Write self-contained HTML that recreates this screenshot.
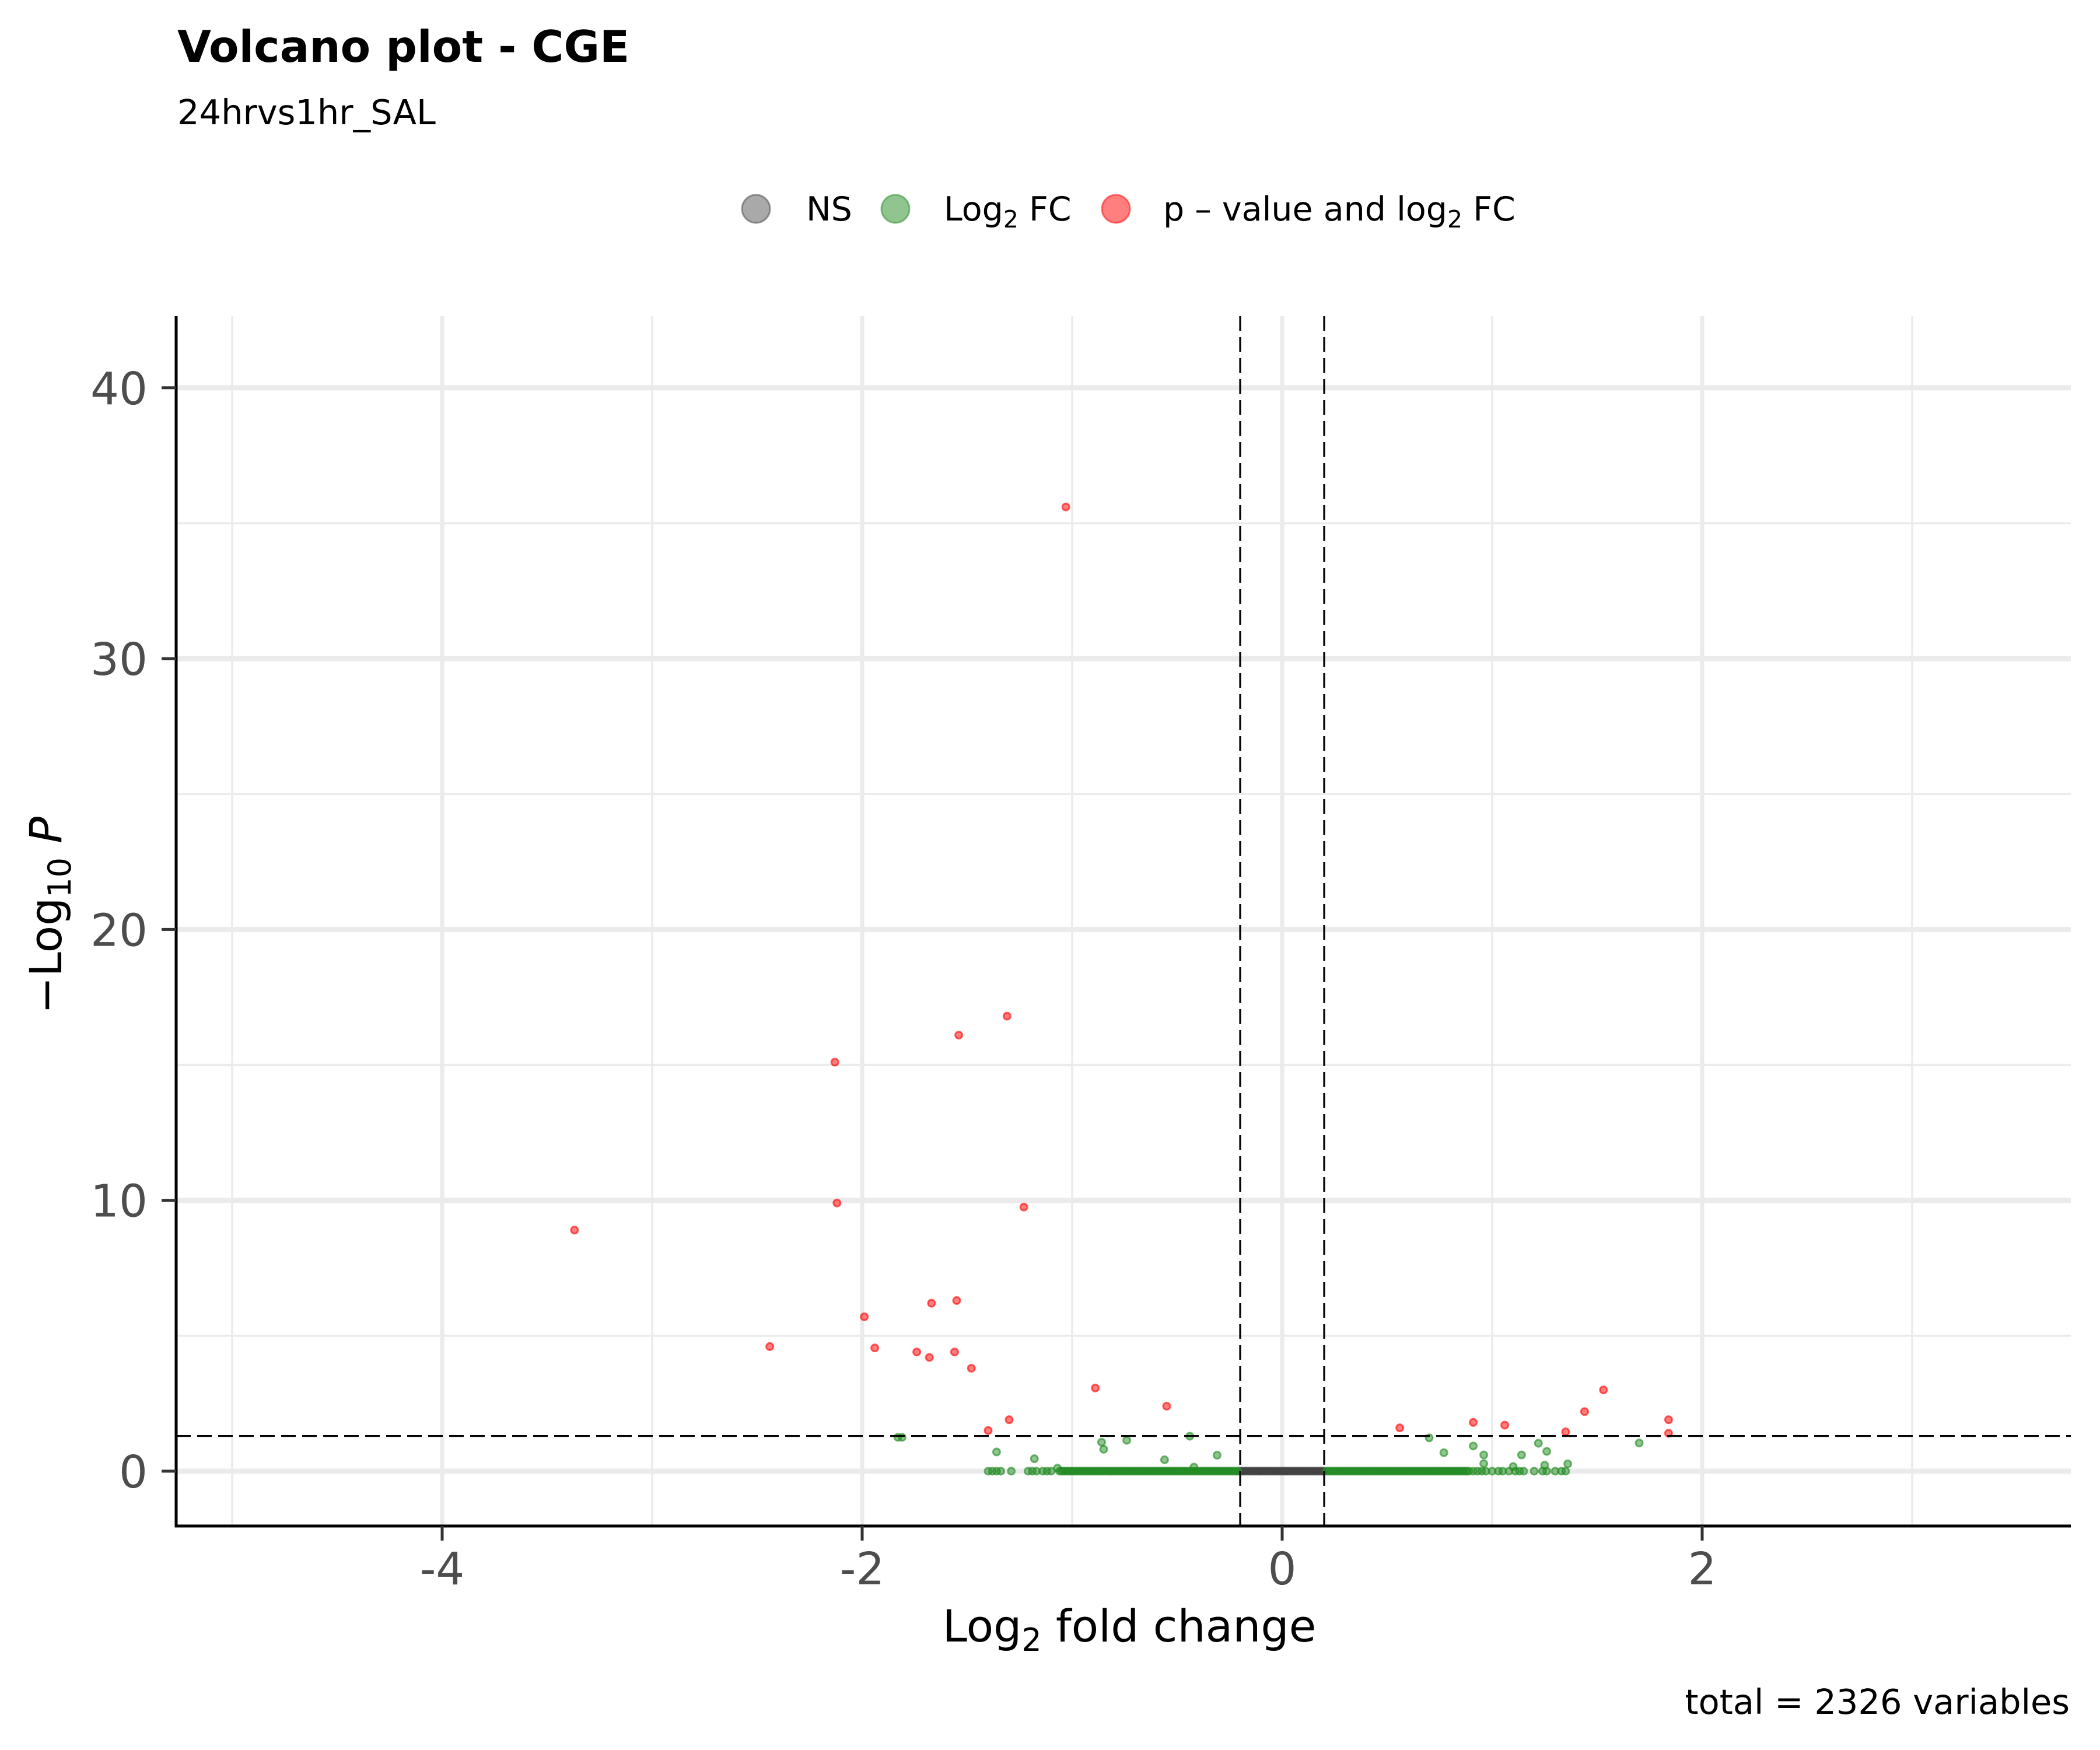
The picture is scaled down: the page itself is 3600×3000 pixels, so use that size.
<!DOCTYPE html>
<html><head><meta charset="utf-8">
<style>
html,body{margin:0;padding:0;background:#fff;}
svg{display:block;font-family:"DejaVu Sans","Liberation Sans",sans-serif;}
</style></head>
<body>
<svg id="chart" width="3600" height="3000" viewBox="0 0 3600 3000" xmlns="http://www.w3.org/2000/svg">
<rect x="0" y="0" width="3600" height="3000" fill="#fff"/>
<text x="304" y="106" font-size="75" font-weight="bold" fill="#000">Volcano plot - CGE</text>
<text x="304" y="213" font-size="59" fill="#000">24hrvs1hr_SAL</text>
<g id="legend">
  <g>
    <circle cx="1296" cy="358" r="24" fill="#404040" fill-opacity="0.45" stroke="#404040" stroke-opacity="0.5" stroke-width="3"/>
    <text x="1382" y="378" font-size="57" fill="#000">NS</text>
  </g>
  <g>
    <circle cx="1535" cy="358" r="24" fill="#228B22" fill-opacity="0.5" stroke="#228B22" stroke-opacity="0.5" stroke-width="3"/>
    <text x="1618" y="378" font-size="57" fill="#000">Log<tspan font-size="41" dy="12">2</tspan><tspan dy="-12"> FC</tspan></text>
  </g>
  <g>
    <circle cx="1913" cy="358" r="24" fill="#ff0000" fill-opacity="0.5" stroke="#ff0000" stroke-opacity="0.5" stroke-width="3"/>
    <text x="1994" y="378" font-size="57" fill="#000">p – value and log<tspan font-size="41" dy="12">2</tspan><tspan dy="-12"> FC</tspan></text>
  </g>
</g>
<g id="grid"></g>
<g id="points"></g>
<g id="refs"></g>
<g id="axes"></g>
<text x="1936" y="2814" font-size="76" text-anchor="middle" fill="#000">Log<tspan font-size="54" dy="16">2</tspan><tspan dy="-16"> fold change</tspan></text>
<text transform="translate(105,1569) rotate(-90)" font-size="76" text-anchor="middle" fill="#000">−Log<tspan font-size="54" dy="16">10</tspan><tspan dy="-16" font-style="italic"> P</tspan></text>
<text x="3548" y="2938" font-size="59" text-anchor="end" fill="#000">total = 2326 variables</text>
</svg>
<script>
// ---- data ----
const xMajorTicks = [-4, -2, 0, 2];
const xMinorTicks = [-5, -3, -1, 1, 3];
const yMajorTicks = [0, 10, 20, 30, 40];
const yMinorTicks = [5, 15, 25, 35];
const fcCutoff = 0.2;
const pCutoff = 1.3;

const redX = [-1.03,-1.31,-1.54,-2.13,-2.12,-1.23,-3.37,-1.99,-1.67,-1.55,-2.44,-1.94,-1.74,-1.56,-1.68,-1.48,-0.89,-0.55,-1.40,-1.30,0.56,0.91,1.06,1.53,1.44,1.35,1.84,1.84];
const redY = [35.6,16.8,16.1,15.1,9.9,9.75,8.9,5.7,6.2,6.3,4.6,4.55,4.4,4.4,4.2,3.8,3.07,2.4,1.5,1.9,1.6,1.8,1.7,3.0,2.2,1.45,1.9,1.4];

const greenX = [-1.83,-1.81,-1.36,-1.18,-1.07,-0.86,-0.85,-0.74,-0.56,-0.44,-0.31,-0.42,0.70,0.77,0.91,0.96,0.96,1.10,1.14,1.22,1.25,1.26,1.36,1.70];
const greenY = [1.25,1.25,0.71,0.46,0.11,1.07,0.81,1.14,0.42,1.29,0.59,0.15,1.23,0.68,0.93,0.60,0.28,0.17,0.60,1.03,0.22,0.73,0.27,1.04];

const greenBaseX = [-1.40,-1.38,-1.36,-1.34,-1.29,-1.21,-1.19,-1.17,-1.14,-1.12,-1.10,-1.06,-1.05,-1.04,-1.03,-1.02,-1.01,-1.00,-0.99,-0.98,-0.97,-0.96,-0.95,-0.94,-0.93,-0.92,-0.91,-0.90,-0.89,-0.88,-0.87,-0.86,-0.85,-0.84,-0.83,-0.82,-0.81,-0.80,-0.79,-0.78,-0.77,-0.76,-0.75,-0.74,-0.73,-0.72,-0.71,-0.70,-0.69,-0.68,-0.67,-0.66,-0.65,-0.64,-0.63,-0.62,-0.61,-0.60,-0.59,-0.58,-0.57,-0.56,-0.55,-0.54,-0.53,-0.52,-0.51,-0.50,-0.49,-0.48,-0.47,-0.46,-0.45,-0.44,-0.43,-0.42,-0.41,-0.40,-0.39,-0.38,-0.37,-0.36,-0.35,-0.34,-0.33,-0.32,-0.31,-0.30,-0.29,-0.28,-0.27,-0.26,-0.25,-0.24,-0.23,-0.22,-0.21,0.21,0.22,0.23,0.24,0.25,0.26,0.27,0.28,0.29,0.30,0.31,0.32,0.33,0.34,0.35,0.36,0.37,0.38,0.39,0.40,0.41,0.42,0.43,0.44,0.45,0.46,0.47,0.48,0.49,0.50,0.51,0.52,0.53,0.54,0.55,0.56,0.57,0.58,0.59,0.60,0.61,0.62,0.63,0.64,0.65,0.66,0.67,0.68,0.69,0.70,0.71,0.72,0.73,0.74,0.75,0.76,0.77,0.78,0.79,0.80,0.81,0.82,0.83,0.84,0.85,0.86,0.87,0.88,0.89,0.91,0.93,0.95,0.97,1.00,1.03,1.05,1.08,1.11,1.13,1.15,1.20,1.24,1.26,1.30,1.33,1.35];
const greyBaseX = [-0.20,-0.19,-0.18,-0.17,-0.16,-0.15,-0.14,-0.13,-0.12,-0.11,-0.10,-0.09,-0.08,-0.07,-0.06,-0.05,-0.04,-0.03,-0.02,-0.01,0.00,0.01,0.02,0.03,0.04,0.05,0.06,0.07,0.08,0.09,0.10,0.11,0.12,0.13,0.14,0.15,0.16,0.17,0.18,0.19,0.20];

// ---- scales ----
const PL = 302, PR = 3550, PT = 542, PB = 2616;
const X0 = 2198, XU = 360, Y0 = 2522, YU = 46.43;
const xS = v => X0 + v * XU;
const yS = v => Y0 - v * YU;
const NS = "http://www.w3.org/2000/svg";
function mk(tag, attrs, parent) {
  const e = document.createElementNS(NS, tag);
  for (const k in attrs) e.setAttribute(k, attrs[k]);
  parent.appendChild(e);
  return e;
}
const grid = document.getElementById('grid');
const refs = document.getElementById('refs');
const pts = document.getElementById('points');
const axes = document.getElementById('axes');

xMinorTicks.forEach(v => {
  const l = mk('line', {x1: xS(v), x2: xS(v), y1: PT, y2: PB, stroke: '#EBEBEB', 'stroke-width': 3.5}, grid);
  
  
});
yMinorTicks.forEach(v => {
  const l = mk('line', {x1: PL, x2: PR, y1: yS(v), y2: yS(v), stroke: '#EBEBEB', 'stroke-width': 3.5}, grid);
  
  
});
xMajorTicks.forEach(v => {
  const l = mk('line', {x1: xS(v), x2: xS(v), y1: PT, y2: PB, stroke: '#EBEBEB', 'stroke-width': 7}, grid);
  
  
});
yMajorTicks.forEach(v => {
  const l = mk('line', {x1: PL, x2: PR, y1: yS(v), y2: yS(v), stroke: '#EBEBEB', 'stroke-width': 9}, grid);
  
  
});

function dot(x, y, col, name) {
  const c = mk('circle', {cx: xS(x), cy: yS(y), r: 6, fill: col, 'fill-opacity': 0.5, stroke: col, 'stroke-opacity': 0.6, 'stroke-width': 3}, pts);
  
  
}
greyBaseX.forEach(x => dot(x, 0, '#404040', 'ns-point'));
greenBaseX.forEach(x => dot(x, 0, '#228B22', 'log2fc-point'));
greenX.forEach((x, i) => dot(x, greenY[i], '#228B22', 'log2fc-point'));
redX.forEach((x, i) => dot(x, redY[i], '#ff0000', 'significant-point'));

[-fcCutoff, fcCutoff].forEach(v => {
  const l = mk('line', {x1: xS(v), x2: xS(v), y1: PT, y2: PB, stroke: '#000', 'stroke-width': 3.2, 'stroke-dasharray': '25 11'}, refs);
  
  
});
const hl = mk('line', {x1: PL, x2: PR, y1: yS(pCutoff), y2: yS(pCutoff), stroke: '#000', 'stroke-width': 3.2, 'stroke-dasharray': '25 11'}, refs);



const xa = mk('line', {x1: PL - 2.5, x2: PR, y1: PB, y2: PB, stroke: '#000', 'stroke-width': 5}, axes);


const ya = mk('line', {x1: PL, x2: PL, y1: PT, y2: PB, stroke: '#000', 'stroke-width': 5}, axes);


xMajorTicks.forEach(v => {
  const t = mk('line', {x1: xS(v), x2: xS(v), y1: PB, y2: PB + 25, stroke: '#333', 'stroke-width': 5}, axes);
  
  
  const lb = mk('text', {x: xS(v), y: 2716, 'font-size': 77, 'text-anchor': 'middle', fill: '#4D4D4D'}, axes);
  lb.textContent = String(v);
  
  
});
yMajorTicks.forEach(v => {
  const t = mk('line', {x1: PL - 25, x2: PL, y1: yS(v), y2: yS(v), stroke: '#333', 'stroke-width': 5}, axes);
  
  
  const lb = mk('text', {x: 253, y: yS(v) + 28, 'font-size': 77, 'text-anchor': 'end', fill: '#4D4D4D'}, axes);
  lb.textContent = String(v);
  
  
});
</script>
</body></html>
